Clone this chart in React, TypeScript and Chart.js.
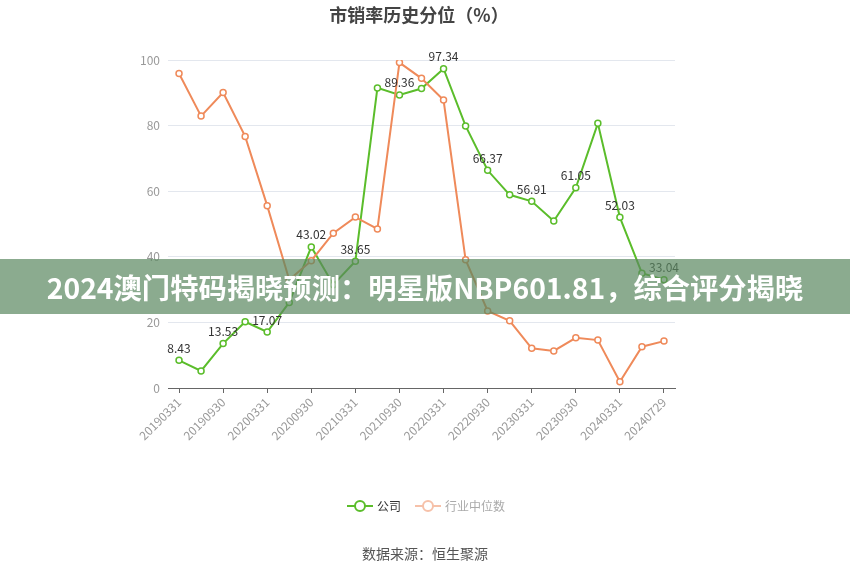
import React, { useEffect, useRef } from "react";
import { Chart, registerables } from "chart.js";

Chart.register(...registerables);

const categories = [
  "20190331", "20190630", "20190930", "20191231",
  "20200331", "20200630", "20200930", "20201231",
  "20210331", "20210630", "20210930", "20211231",
  "20220331", "20220630", "20220930", "20221231",
  "20230331", "20230630", "20230930", "20231231",
  "20240331", "20240630", "20240729",
];

const companyValues = [
  8.43, 5.2, 13.53, 20.2,
  17.07, 26.1, 43.02, 31.5,
  38.65, 91.5, 89.36, 91.3,
  97.34, 79.9, 66.37, 58.9,
  56.91, 50.9, 61.05, 80.7,
  52.03, 35.0, 33.04,
];

const industryValues = [
  95.9, 82.9, 90.1, 76.7,
  55.6, 33.0, 38.8, 47.2,
  52.1, 48.5, 99.2, 94.4,
  87.8, 39.1, 23.5, 20.5,
  12.1, 11.3, 15.3, 14.6,
  1.9, 12.6, 14.3,
];

const yTicks = [0, 20, 40, 60, 80, 100];

const seriesNames = ["公司", "行业中位数"];
const titleText = "市销率历史分位（%）";
const sourceText = "数据来源：恒生聚源";
const bannerText = "2024澳门特码揭晓预测：明星版NBP601.81，综合评分揭晓";

const GREEN = "#5bbd2b";
const ORANGE = "#ef8a5a";
const FONT = '"Noto Sans CJK SC", "Noto Sans", sans-serif';

const labelPlugin = {
  id: "valueLabels",
  afterDatasetsDraw(chart: any) {
    const meta = chart.getDatasetMeta(0);
    const ctx = chart.ctx;
    ctx.save();
    ctx.font = `12px ${FONT}`;
    ctx.fillStyle = "#333";
    ctx.textAlign = "center";
    ctx.textBaseline = "bottom";
    meta.data.forEach((el: any, i: number) => {
      if (i % 2 === 0) {
        ctx.fillText(companyValues[i].toFixed(2), el.x, el.y - 6);
      }
    });
    ctx.restore();
  },
};

export default function App() {
  const canvasRef = useRef<HTMLCanvasElement | null>(null);

  useEffect(() => {
    document.body.style.margin = "0";
    const canvas = canvasRef.current;
    if (!canvas) return;
    const chart = new Chart(canvas, {
      type: "line",
      data: {
        labels: categories,
        datasets: [
          {
            label: seriesNames[0],
            data: companyValues,
            borderColor: GREEN,
            backgroundColor: "#fff",
            pointBackgroundColor: "#fff",
            pointBorderColor: GREEN,
            pointBorderWidth: 1.5,
            pointRadius: 3,
            borderWidth: 2,
            tension: 0,
            order: 1,
          },
          {
            label: seriesNames[1],
            data: industryValues,
            borderColor: ORANGE,
            backgroundColor: "#fff",
            pointBackgroundColor: "#fff",
            pointBorderColor: ORANGE,
            pointBorderWidth: 1.5,
            pointRadius: 3,
            borderWidth: 2,
            tension: 0,
            order: 0,
          },
        ],
      },
      options: {
        responsive: false,
        animation: false,
        layout: { padding: { top: 60, bottom: 100, left: 0, right: 175 } },
        plugins: {
          legend: { display: false },
          title: { display: false },
          tooltip: { enabled: false },
        },
        scales: {
          x: {
            type: "category",
            offset: true,
            border: { display: true, color: "#666", width: 1 },
            grid: {
              display: true,
              drawOnChartArea: false,
              drawTicks: true,
              tickLength: 5,
              color: (c: any) => (c.index % 2 === 0 ? "#666" : "rgba(0,0,0,0)"),
            },
            ticks: {
              autoSkip: false,
              maxRotation: 45,
              minRotation: 45,
              color: "#999",
              font: { size: 12, family: FONT },
              padding: 2,
              callback: (_v: any, i: number) => (i % 2 === 0 ? categories[i] : ""),
            },
            afterFit: (s: any) => {
              s.height = 87;
            },
          },
          y: {
            min: 0,
            max: 100,
            border: { display: false },
            grid: { color: "#e3e7ee", drawTicks: false },
            afterBuildTicks: (s: any) => {
              s.ticks = yTicks.map((v) => ({ value: v }));
            },
            ticks: {
              color: "#999",
              font: { size: 12, family: FONT },
              padding: 8,
            },
            afterFit: (s: any) => {
              s.width = 168;
            },
          },
        },
      },
      plugins: [labelPlugin],
    } as any);
    return () => chart.destroy();
  }, []);

  return (
    <div style={{ position: "relative", width: 850, height: 575, background: "#fff", fontFamily: FONT }}>
      <canvas ref={canvasRef} width={850} height={575} style={{ width: 850, height: 575, display: "block" }} />
      <div
        style={{
          position: "absolute", left: 0, top: 2, width: 838, textAlign: "center",
          fontSize: 18, fontWeight: "bold", color: "#444", lineHeight: "24px",
        }}
      >
        {titleText}
      </div>
      <div
        style={{
          position: "absolute", left: 0, top: 259, width: 850, height: 55,
          background: "rgba(90,135,95,0.7)",
          display: "flex", alignItems: "center", justifyContent: "center",
          color: "#fff", fontSize: 28.3, fontWeight: "bold", whiteSpace: "nowrap",
        }}
      >
        {bannerText}
      </div>
      <div style={{ position: "absolute", top: 496, left: 346, display: "flex", alignItems: "center", fontSize: 12, lineHeight: "20px" }}>
        <svg width="28" height="20">
          <line x1="1" y1="10" x2="27" y2="10" stroke={GREEN} strokeWidth="2" />
          <circle cx="14" cy="10" r="5" fill="#fff" stroke={GREEN} strokeWidth="2" />
        </svg>
        <span style={{ color: "#333", marginLeft: 3 }}>{seriesNames[0]}</span>
        <svg width="28" height="20" style={{ marginLeft: 13 }}>
          <line x1="1" y1="10" x2="27" y2="10" stroke="#f6c1a9" strokeWidth="2" />
          <circle cx="14" cy="10" r="5" fill="#fff" stroke="#f6c1a9" strokeWidth="2" />
        </svg>
        <span style={{ color: "#aaa", marginLeft: 3 }}>{seriesNames[1]}</span>
      </div>
      <div
        style={{
          position: "absolute", left: 0, top: 543, width: 850, textAlign: "center",
          fontSize: 14, color: "#555", lineHeight: "20px",
        }}
      >
        {sourceText}
      </div>
    </div>
  );
}
